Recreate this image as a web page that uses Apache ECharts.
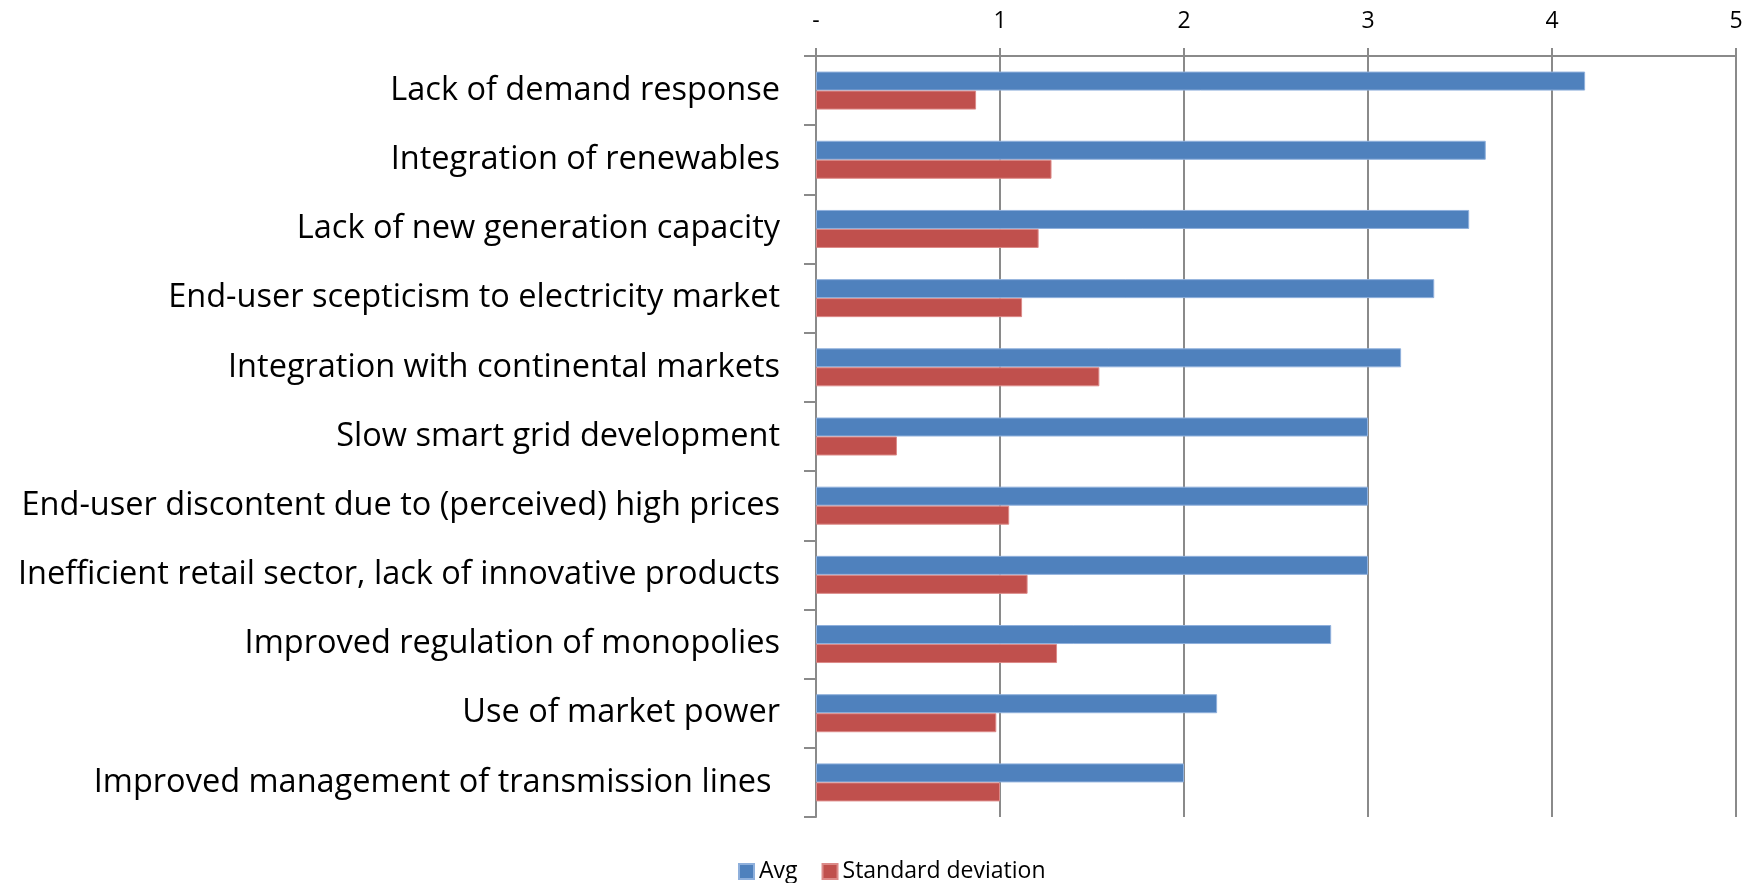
<!DOCTYPE html>
<html>
<head>
<meta charset="utf-8">
<script src="https://cdn.jsdelivr.net/npm/echarts@6/dist/echarts.min.js"></script>
<style>html,body{margin:0;padding:0;background:#fff;}#c{width:1754px;height:883px;}</style>
</head>
<body>
<div id="c"></div>
<script>
const categories = [
  "Lack of demand response",
  "Integration of renewables",
  "Lack of new generation capacity",
  "End-user scepticism to electricity market",
  "Integration with continental markets",
  "Slow smart grid development",
  "End-user discontent due to (perceived) high prices",
  "Inefficient retail sector, lack of innovative products",
  "Improved regulation of monopolies",
  "Use of market power",
  "Improved management of transmission lines "
];
const avg = [4.18, 3.64, 3.55, 3.36, 3.18, 3.0, 3.0, 3.0, 2.8, 2.18, 2.0];
const stdDev = [0.87, 1.28, 1.21, 1.12, 1.54, 0.44, 1.05, 1.15, 1.31, 0.98, 1.0];
const xTicks = [0, 1, 2, 3, 4, 5];

const chart = echarts.init(document.getElementById('c'), null, {renderer: 'canvas'});
const font = 'Open Sans';
chart.setOption({
  animation: false,
  backgroundColor: '#fff',
  grid: {left: 816, right: 18, top: 56, bottom: 66, containLabel: false},
  legend: {
    top: 855,
    left: 733,
    itemWidth: 15,
    itemHeight: 15,
    itemGap: 24,
    icon: 'rect',
    textStyle: {fontFamily: font, fontSize: 23, color: '#000'},
    data: ['Avg', 'Standard deviation']
  },
  xAxis: {
    type: 'value',
    position: 'top',
    min: xTicks[0],
    max: xTicks[xTicks.length - 1],
    interval: 1,
    axisLine: {show: true, lineStyle: {color: '#8a8a8a', width: 2}},
    axisTick: {show: true, length: 8, lineStyle: {color: '#8a8a8a', width: 2}},
    splitLine: {show: true, lineStyle: {color: '#8a8a8a', width: 2}},
    axisLabel: {
      margin: 23,
      fontFamily: font, fontSize: 23, color: '#000',
      formatter: v => xTicks.indexOf(v) === 0 ? '-' : String(v)
    }
  },
  yAxis: {
    type: 'category',
    inverse: true,
    data: categories,
    axisLine: {show: true, lineStyle: {color: '#8a8a8a', width: 2}},
    axisTick: {show: true, length: 12, lineStyle: {color: '#8a8a8a', width: 2}},
    axisLabel: {margin: 36, fontFamily: font, fontSize: 32.5, color: '#000'}
  },
  series: [
    {name: 'Avg', type: 'bar', data: avg, barWidth: 19, barGap: '0%',
     itemStyle: {color: '#4F81BD', borderColor: '#8fb0dc', borderWidth: 1}},
    {name: 'Standard deviation', type: 'bar', data: stdDev, barWidth: 19, barGap: '0%',
     itemStyle: {color: '#C0504D', borderColor: '#dc8a88', borderWidth: 1}}
  ]
});
</script>
</body>
</html>
